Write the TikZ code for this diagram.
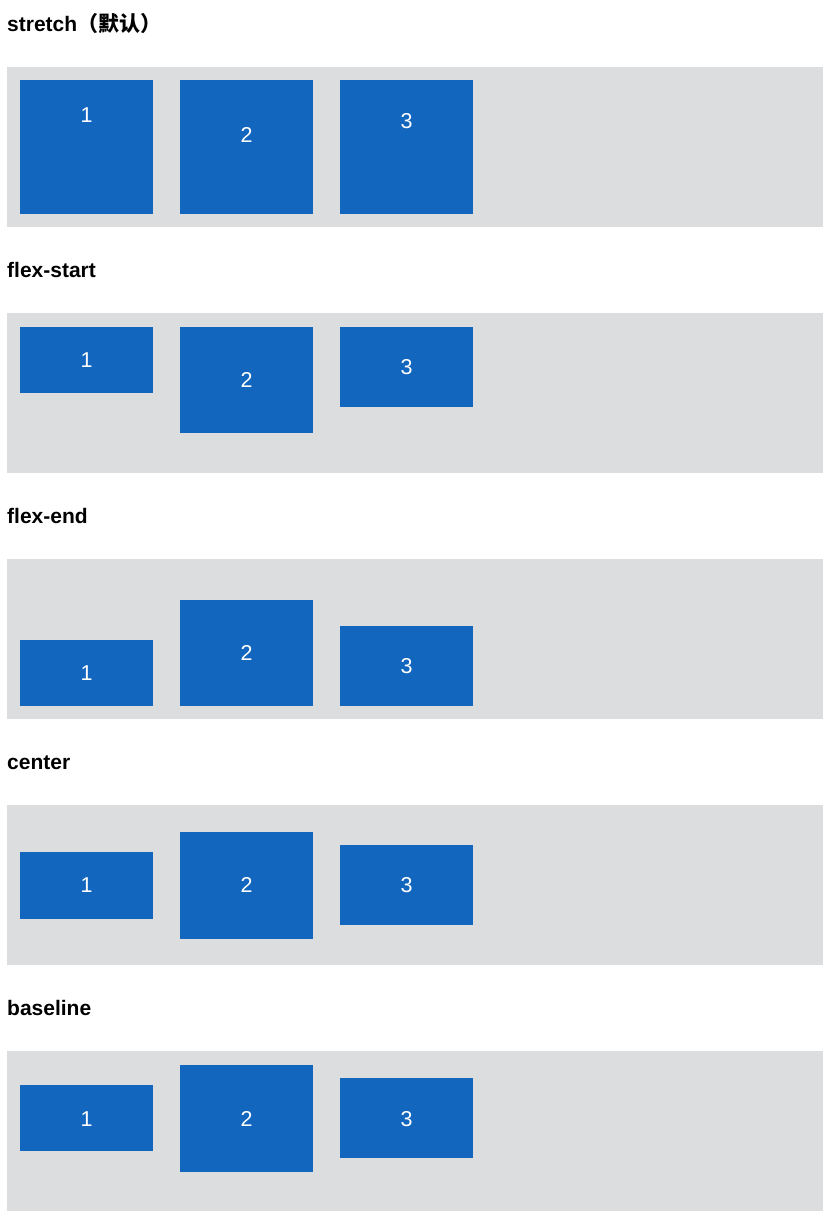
\documentclass[tikz,border=0pt]{standalone}
\usepackage{fontspec}
\setmainfont{Liberation Sans}
\newfontfamily\cjk{Noto Sans CJK SC}
\definecolor{panelgray}{RGB}{220,221,223}
\definecolor{boxblue}{RGB}{19,102,190}
\begin{document}
\begin{tikzpicture}[x=1pt,y=-1pt,
  panel/.style={fill=panelgray, draw=none, anchor=north west, inner sep=0pt, minimum width=816pt, minimum height=160pt},
  itembox/.style={fill=boxblue, draw=none, anchor=north west, inner sep=0pt, minimum width=133pt},
  lbl/.style={text=white, font=\fontsize{21.5}{24}\selectfont, anchor=base, inner sep=0pt},
  ttl/.style={font=\fontsize{21}{24}\selectfont\bfseries, anchor=base west, inner sep=0pt}]
\useasboundingbox (0,0) rectangle (836,1222);
\fill[white] (0,0) rectangle (836,1222);

% ---- stretch ----
\node[ttl] (t1) at (7,31.7) {stretch{\cjk\bfseries（默认）}};
\node[panel] (p1) at (7,67) {};
\node[itembox, minimum height=133.3pt] (a1) at (20,80.3) {};
\node[itembox, minimum height=133.3pt] (a2) at (180,80.3) {};
\node[itembox, minimum height=133.3pt] (a3) at (340,80.3) {};
\node[lbl] (la1) at (86.7,122.1) {1};
\node[lbl] (la2) at (246.7,142.6) {2};
\node[lbl] (la3) at (406.7,128.9) {3};

% ---- flex-start ----
\node[ttl] (t2) at (7,277.7) {flex-start};
\node[panel] (p2) at (7,313) {};
\node[itembox, minimum height=66.7pt] (b1) at (20,326.3) {};
\node[itembox, minimum height=106.7pt] (b2) at (180,326.3) {};
\node[itembox, minimum height=80pt] (b3) at (340,326.3) {};
\node[lbl] (lb1) at (86.7,367.5) {1};
\node[lbl] (lb2) at (246.7,387.5) {2};
\node[lbl] (lb3) at (406.7,374.2) {3};

% ---- flex-end ----
\node[ttl] (t3) at (7,523.7) {flex-end};
\node[panel] (p3) at (7,559) {};
\node[itembox, minimum height=66.7pt] (c1) at (20,639.3) {};
\node[itembox, minimum height=106.7pt] (c2) at (180,599.3) {};
\node[itembox, minimum height=80pt] (c3) at (340,626) {};
\node[lbl] (lc1) at (86.7,680.5) {1};
\node[lbl] (lc2) at (246.7,660.5) {2};
\node[lbl] (lc3) at (406.7,673.8) {3};

% ---- center ----
\node[ttl] (t4) at (7,769.7) {center};
\node[panel] (p4) at (7,805) {};
\node[itembox, minimum height=66.7pt] (d1) at (20,851.7) {};
\node[itembox, minimum height=106.7pt] (d2) at (180,831.7) {};
\node[itembox, minimum height=80pt] (d3) at (340,845) {};
\node[lbl] (ld1) at (86.7,892.8) {1};
\node[lbl] (ld2) at (246.7,892.8) {2};
\node[lbl] (ld3) at (406.7,892.8) {3};

% ---- baseline ----
\node[ttl] (t5) at (7,1015.7) {baseline};
\node[panel] (p5) at (7,1051) {};
\node[itembox, minimum height=66.7pt] (e1) at (20,1084.3) {};
\node[itembox, minimum height=106.7pt] (e2) at (180,1064.7) {};
\node[itembox, minimum height=80pt] (e3) at (340,1078) {};
\node[lbl] (le1) at (86.7,1126.8) {1};
\node[lbl] (le2) at (246.7,1126.8) {2};
\node[lbl] (le3) at (406.7,1126.8) {3};
\end{tikzpicture}
\end{document}
